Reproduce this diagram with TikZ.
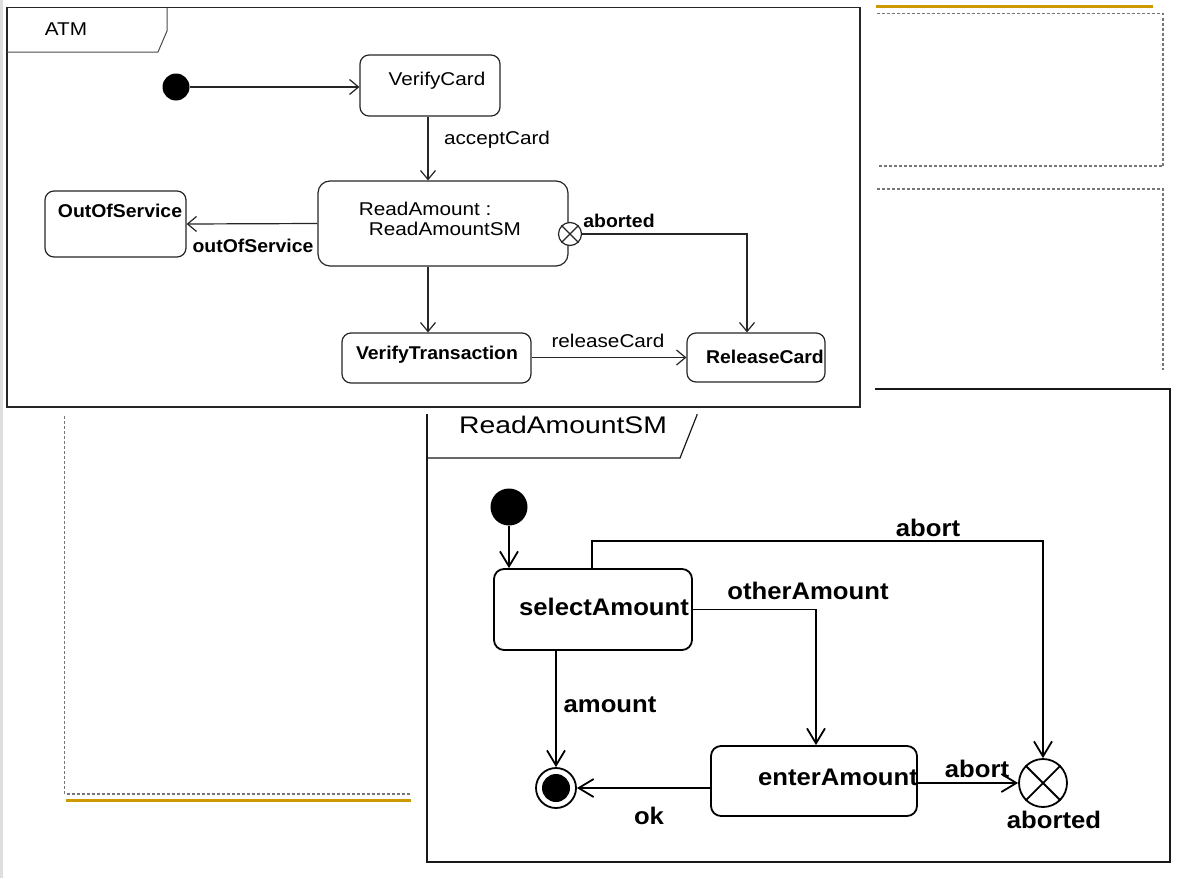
\documentclass[tikz,border=0pt]{standalone}
\usepackage{fontspec}
\setmainfont{Liberation Sans}
\newfontfamily\atmfont[FakeStretch=1.12]{Liberation Sans}
\newfontfamily\atmbfont[FakeStretch=1.05]{Liberation Sans}
\newfontfamily\smfont[FakeStretch=1.07]{Liberation Sans}
\newfontfamily\smtitlefont[FakeStretch=1.18]{Liberation Sans}
\usetikzlibrary{arrows.meta}

\definecolor{gold}{RGB}{204,153,0}
\definecolor{dotgray}{RGB}{118,118,118}

\tikzset{
  atmbox/.style={draw=black!85, line width=1.2pt, rounded corners=9pt, inner sep=0pt, fill=white},
  smbox/.style={draw=black, line width=1.8pt, rounded corners=10pt, inner sep=0pt, fill=white},
  atmflow/.style={draw=black!85, line width=1.2pt, -{Straight Barb[length=9pt,width=15pt]}},
  smflow/.style={draw=black, line width=1.8pt, -{Straight Barb[length=15pt,width=18pt]}},
  atmtext/.style={inner sep=0pt, font=\atmfont\fontsize{18.5}{20}\selectfont},
  atmbtext/.style={inner sep=0pt, font=\atmbfont\bfseries\fontsize{18.5}{20}\selectfont},
  smtext/.style={inner sep=0pt, font=\smfont\bfseries\fontsize{24}{26}\selectfont},
  dotline/.style={draw=dotgray, line width=1.4pt, dash pattern=on 3pt off 2pt},
  goldline/.style={draw=gold, line width=3pt},
}

\begin{document}
\begin{tikzpicture}[x=1pt, y=-1pt]
\useasboundingbox (0,0) rectangle (1193,878);
\fill[white] (0,0) rectangle (1193,878);

% slide decorations behind the diagrams
\draw[goldline] (876,6.5) -- (1153,6.5);
\draw[dotline] (877,13.5) -- (1163,13.5) -- (1163,166) -- (877,166);
\draw[dotline] (877,189) -- (1163,189) -- (1163,370);
\draw[dotline] (64.5,416) -- (64.5,794) -- (411,794);
\draw[goldline] (66,800.5) -- (411,800.5);

% ---------------- ReadAmountSM frame ----------------
\draw[black!90, line width=1.8pt] (427,389) rectangle (1170,862);
\draw[black!90, line width=1.2pt] (427,458) -- (680,458) -- (697,415) -- (697,389);
\node[inner sep=0pt, font=\smtitlefont\fontsize{24}{26}\selectfont] (smtitle) at (563,425) {ReadAmountSM};

\node[circle, fill=black, minimum size=37pt, inner sep=0pt] (si) at (509,507) {};
\node[smbox, minimum width=198pt, minimum height=81pt] (sa) at (593,609.5) {};
\node[smbox, minimum width=206pt, minimum height=70pt] (ea) at (814,781) {};
\node[circle, draw=black, line width=1.8pt, minimum size=40pt, inner sep=0pt] (fs) at (556,788) {};
\fill[black] (fs.center) circle (14pt);
\node[circle, draw=black, line width=1.8pt, minimum size=48pt, inner sep=0pt] (ab) at (1043,783) {};
\draw[line width=1.8pt] (ab.north west) -- (ab.south east) (ab.north east) -- (ab.south west);

\coordinate (abortTurn) at (592,541);
\coordinate (otherCol) at (816,0);

\draw[smflow] (si.south) -- (sa.north -| si);
\draw[smflow] (sa.north -| abortTurn) -- (abortTurn) -- (abortTurn -| ab) -- (ab.north);
\draw[smflow] (sa.east) -- (sa.east -| otherCol) -- (ea.north -| otherCol);
\draw[smflow] (sa.south -| fs) -- (fs.north);
\draw[smflow] (ea.west |- fs) -- (fs.east);
\draw[smflow] (ea.east |- ab) -- (ab.west);

\node[smtext] (tsa) at (604,607) {selectAmount};
\node[smtext] (tea) at (838,777) {enterAmount};
\node[smtext] (labort1) at (928,528) {abort};
\node[smtext] (lother) at (808,591) {otherAmount};
\node[smtext] (lamount) at (610,705) {amount};
\node[smtext] (lok) at (649,816) {ok};
\node[smtext] (labort2) at (977,769) {abort};
\node[smtext] (laborted) at (1054,820) {aborted};

% ---------------- ATM frame ----------------
\fill[white] (3,0) rectangle (875,414);
\draw[black!85, line width=1.5pt, fill=white] (7,7.5) rectangle (860,407);
\draw[black!70, line width=1pt] (7,52) -- (158,52) -- (167,31) -- (167,7.5);
\node[atmtext] (atmtitle) at (66,29) {ATM};

\node[circle, fill=black, minimum size=27pt, inner sep=0pt] (ai) at (176,87) {};
\node[atmbox, minimum width=140pt, minimum height=61pt] (vc) at (430,85.5) {};
\node[atmbox, minimum width=250pt, minimum height=85pt, rounded corners=12pt] (ra) at (443,223.5) {};
\node[atmbox, minimum width=141pt, minimum height=66pt] (os) at (115.5,224) {};
\node[atmbox, minimum width=189pt, minimum height=50pt] (vt) at (436.5,358) {};
\node[atmbox, minimum width=138pt, minimum height=49pt] (rc) at (756,357.5) {};
\node[circle, draw=black!85, line width=1.2pt, fill=white, minimum size=23pt, inner sep=0pt] (ex) at (570,234) {};
\draw[black!85, line width=1.1pt] (ex.north west) -- (ex.south east) (ex.north east) -- (ex.south west);

\coordinate (mainCol) at (428,0);
\coordinate (abortCol) at (747,0);

\draw[atmflow] (ai.east) -- (ai.east -| vc.west);
\draw[atmflow] (vc.south -| mainCol) -- (ra.north -| mainCol);
\draw[atmflow] (ra.west) -- (os.east);
\draw[atmflow] (ra.south -| mainCol) -- (vt.north -| mainCol);
\draw[atmflow] (vt.east |- rc) -- (rc.west);
\draw[atmflow] (ex.east) -- (ex.east -| abortCol) -- (rc.north -| abortCol);

\node[atmtext] (tvc) at (437,81) {VerifyCard};
\node[atmtext, align=left] (tra) at (440,219) {ReadAmount :\\\hspace*{10pt}ReadAmountSM};
\node[atmbtext] (tos) at (120,211) {OutOfService};
\node[atmbtext] (tvt) at (437,355) {VerifyTransaction};
\node[atmbtext] (trc) at (765,357) {ReleaseCard};
\node[atmtext] (laccept) at (497,140) {acceptCard};
\node[atmbtext] (lout) at (253,246) {outOfService};
\node[atmbtext] (labortedA) at (619,221) {aborted};
\node[atmtext] (lrelease) at (608,341) {releaseCard};

% page edge
\fill[black!13] (0,0) rectangle (3,878);
\end{tikzpicture}
\end{document}
